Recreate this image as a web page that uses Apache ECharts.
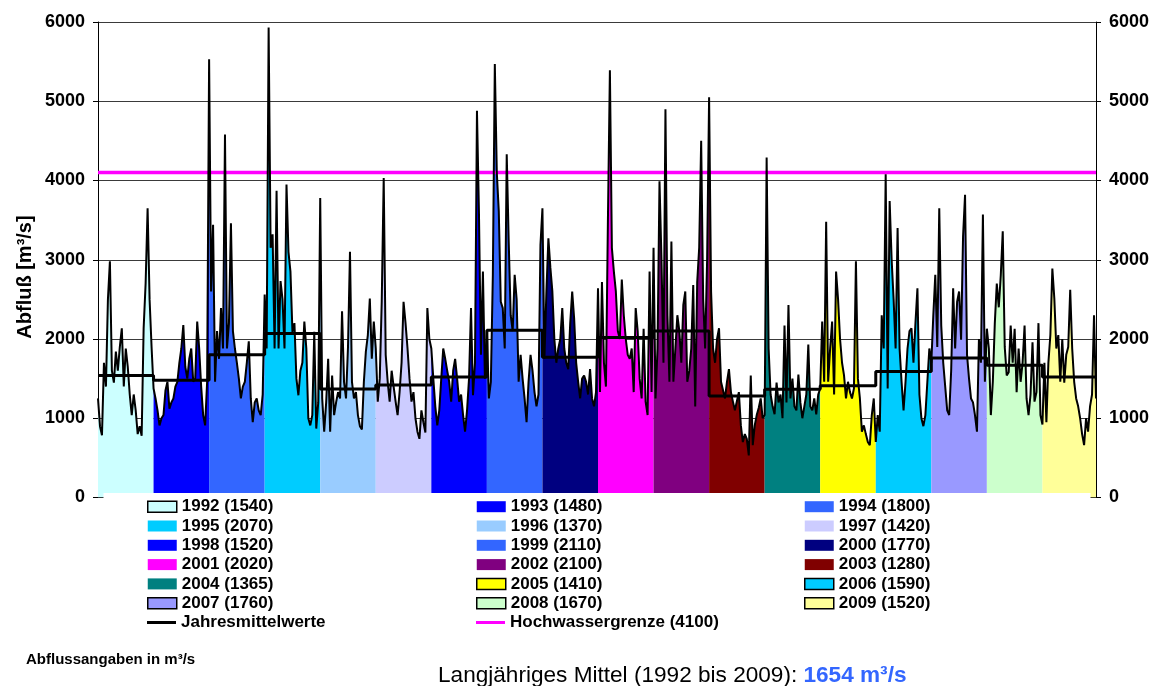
<!DOCTYPE html>
<html><head><meta charset="utf-8">
<script src="https://cdn.jsdelivr.net/npm/echarts@6/dist/echarts.min.js"></script>
<style>html,body{margin:0;padding:0;background:#fff}#c{width:1155px;height:686px}</style>
</head><body><div id="c"></div>
<script>
// ---------- data ----------
const years = [1992,1993,1994,1995,1996,1997,1998,1999,2000,2001,2002,2003,2004,2005,2006,2007,2008,2009];
const annualMeans = [1540,1480,1800,2070,1370,1420,1520,2110,1770,2020,2100,1280,1365,1410,1590,1760,1670,1520];
const floodLimit = 4100;
const longTermMean = 1654;
const yTicks = [0,1000,2000,3000,4000,5000,6000];

// discharge readings (m³/s), evenly spaced through each year
const q1992 = [1250,900,785,1700,1400,2500,2980,1600,1450,1840,1600,1900,2135,1400,1880,1650,1300,1040,1300,1100,800,900,780,2135,2700,3650,2500,1900];
const q1993 = [1375,1250,1100,910,1000,1040,1350,1460,1120,1200,1250,1400,1460,1700,1880,2175,1650,1500,1750,1880,1460,1500,2220,1880,1400,1040,910,1460];
const q1994 = [5530,2600,3440,1460,2100,1750,2390,1880,4580,1880,2200,3460,2100,1880,1700,1500,1250,1400,1460,1700,1970,1250,950,1200,1250,1100,1040,1300];
const q1995 = [2560,1880,5930,3150,3320,1880,3870,1880,2730,2500,1880,3950,3100,2850,2090,2200,1500,1290,1600,1700,2220,1880,1000,910,1040,2090,870,1200];
const q1996 = [3780,1250,830,1200,1750,830,1540,1040,1200,1330,1250,2350,1460,1250,1900,3100,1460,1250,1330,1040,900,860,1460,1840,2050,2510,1750,2220];
const q1997 = [1880,1210,1500,2470,4030,1800,1460,1210,1600,1400,1210,1040,1330,1700,2470,2200,1880,1500,1210,1330,1000,830,740,1100,950,820,2390,2000];
const q1998 = [1880,1500,1150,910,1100,1500,1880,1750,1600,1460,1210,1600,1750,1500,1210,1300,1040,830,1100,1500,2390,1290,1700,4880,3600,1800,2850,1500];
const q1999 = [2100,1250,1460,2800,5470,4100,3610,2470,2390,1880,4330,3230,2300,2100,2810,2500,1460,1800,1500,1250,950,1460,1800,1600,1330,1150,1300,3190];
const q2000 = [3650,1750,2600,3270,2900,2600,2000,1700,1880,2000,2390,1880,1700,1620,2200,2600,2250,1700,1460,1250,1500,1540,1460,1300,1620,1250,1150,1330];
const q2001 = [2640,1330,2720,1700,1400,3500,5390,3150,2850,2600,2100,2000,2750,2300,2000,1800,1750,1880,1330,2390,2100,1500,1250,2130,1210,1040,2850,1330];
const q2002 = [3150,1250,1880,3990,3000,1700,4900,2300,1460,3230,1460,1880,2300,2100,1700,2430,2600,1460,1600,1880,2680,1150,2720,3150,4500,2510,1880,3000];
const q2003 = [5050,2600,1880,1700,2000,2135,1460,1460,1250,1460,1620,1330,1210,1100,1080,1330,910,700,800,740,530,1540,660,910,1040,1130,1250,1000];
const q2004 = [1040,4290,1880,1300,1150,1050,1450,1200,1300,1000,2170,1200,2430,1250,1500,1150,1100,1550,1200,1000,1150,1300,1930,1150,1100,1250,1050,1300];
const q2005 = [1375,2220,1460,3480,1460,1880,2220,1300,2850,2500,2000,1700,1540,1250,1460,1330,1250,1375,2980,1500,1250,830,910,800,700,660,1040,1250];
const q2006 = [700,1040,830,2300,1880,4080,1375,3740,3000,2500,1880,3400,1880,1460,1100,1460,1880,2100,2135,1700,2200,2640,1300,1000,900,1040,1460,1880];
const q2007 = [1700,2300,2810,1900,3650,2170,1700,1400,1100,1040,1600,2640,1880,2470,2600,1990,3300,3820,1800,1500,1250,1200,1040,830,2000,1700,3570,1460];
const q2008 = [2130,1880,1040,1460,2200,2700,2400,2800,3360,1900,1540,1580,2170,1700,2130,1330,1880,1460,1700,2170,1250,1040,1300,1960,1210,1330,2200,1040];
const q2009 = [920,1700,950,1700,2050,2890,2510,1880,2050,1460,2000,1450,1800,1900,2620,1880,1460,1250,1150,1000,800,660,1000,830,1150,1300,2300,1250];
const dailyByYear = [q1992,q1993,q1994,q1995,q1996,q1997,q1998,q1999,q2000,q2001,q2002,q2003,q2004,q2005,q2006,q2007,q2008,q2009];

// ---------- styles ----------
const fillColors = ['#CCFFFF','#0000FF','#3366FF','#00CCFF','#99CCFF','#CCCCFF','#0000FF','#3366FF','#000080',
                    '#FF00FF','#800080','#800000','#008080','#FFFF00','#00CCFF','#9999FF','#CCFFCC','#FFFF99'];
const withBorder = [true,false,false,false,false,false,false,false,false,false,false,false,false,true,true,true,true,true];
const FONT = '"Liberation Sans", Arial, sans-serif';

// ---------- build ----------
const last = years.length - 1;
const xMax = last + (dailyByYear[last].length - 1) / dailyByYear[last].length;
const series = [];
const allPts = [];
years.forEach((yr, i) => {
  const vals = dailyByYear[i];
  const pts = vals.map((v, k) => [i + k / vals.length, v]);
  pts.forEach(p => allPts.push(p));
  const areaPts = pts.slice();
  if (i < last) areaPts.push([i + 1, dailyByYear[i + 1][0]]);
  series.push({
    name: yr + ' (' + annualMeans[i] + ')', type: 'line', data: areaPts, symbol: 'none',
    lineStyle: { width: 0, opacity: 0 }, itemStyle: { color: fillColors[i] },
    areaStyle: { color: fillColors[i], opacity: 1 }, z: 2, silent: true
  });
});
series.push({ name: 'Hochwassergrenze (' + floodLimit + ')', type: 'line', data: [[0, floodLimit], [xMax, floodLimit]],
  symbol: 'none', lineStyle: { color: '#FF00FF', width: 3.5 }, itemStyle: { color: '#FF00FF' }, z: 4, silent: true });
series.push({ name: 'daily', type: 'line', data: allPts, symbol: 'none',
  lineStyle: { color: '#000', width: 2 }, z: 5, silent: true });
const meanPts = annualMeans.map((m, i) => [i, m]);
meanPts.push([xMax, annualMeans[last]]);
series.push({ name: 'Jahresmittelwerte', type: 'line', step: 'end', data: meanPts, symbol: 'none',
  lineStyle: { color: '#000', width: 3 }, itemStyle: { color: '#000' }, z: 6, silent: true });

function yearItem(i) {
  return { name: years[i] + ' (' + annualMeans[i] + ')', icon: 'rect',
    itemStyle: { color: fillColors[i], borderColor: withBorder[i] ? '#000' : fillColors[i], borderWidth: withBorder[i] ? 1.5 : 0 } };
}
const legendBase = { orient: 'vertical', padding: 0, itemWidth: 29, itemHeight: 11, itemGap: 2.3, selectedMode: false, z: 20,
  textStyle: { fontFamily: FONT, fontWeight: 'bold', fontSize: 17, lineHeight: 17, color: '#000' } };
const colX = [147, 476, 804];
const rowTop = 498.2, rowStep = 19.3;
const legends = [0, 1, 2].map(c => Object.assign({}, legendBase, {
  left: colX[c], top: rowTop,
  data: years.map((y, i) => i).filter(i => i % 3 === c).map(yearItem)
}));
legends.push(Object.assign({}, legendBase, { left: colX[0], top: rowTop + 6 * rowStep, itemHeight: 3,
  data: [{ name: 'Jahresmittelwerte', icon: 'rect', itemStyle: { color: '#000' } }] }));
legends.push(Object.assign({}, legendBase, { left: colX[1], top: rowTop + 6 * rowStep, itemHeight: 3,
  data: [{ name: 'Hochwassergrenze (' + floodLimit + ')', icon: 'rect', itemStyle: { color: '#FF00FF' } }] }));

const yAxisBase = { type: 'value', min: yTicks[0], max: yTicks[yTicks.length - 1], interval: yTicks[1] - yTicks[0],
  axisLine: { show: true, lineStyle: { color: '#000', width: 1 } },
  axisTick: { show: true, length: 5, lineStyle: { color: '#000' } },
  axisLabel: { fontFamily: FONT, fontWeight: 'bold', fontSize: 18, color: '#000', margin: 13, formatter: v => String(v) } };

const chart = echarts.init(document.getElementById('c'), null, { renderer: 'canvas' });
chart.setOption({
  animation: false,
  backgroundColor: '#fff',
  grid: { left: 98, right: 59, top: 22, bottom: 188.5 },
  xAxis: { type: 'value', min: 0, max: xMax, axisLine: { show: true, onZero: false, lineStyle: { color: '#000' } },
    axisTick: { show: false }, axisLabel: { show: false }, splitLine: { show: false } },
  yAxis: [
    Object.assign({}, yAxisBase, { position: 'left', splitLine: { show: true, lineStyle: { color: '#3a3a3a', width: 1 } } }),
    Object.assign({}, yAxisBase, { position: 'right', splitLine: { show: false } })
  ],
  legend: legends,
  series: series,
  graphic: [
    { type: 'rect', z: 10, shape: { x: 103.5, y: 493, width: 987, height: 145 }, style: { fill: '#fff' }, silent: true },
    { type: 'text', z: 30, x: 25, y: 277, rotation: Math.PI / 2,
      style: { text: 'Abfluß [m³/s]', font: 'bold 20px ' + FONT, fill: '#000', textAlign: 'center', textVerticalAlign: 'middle' } },
    { type: 'text', z: 30, x: 26, y: 660,
      style: { text: 'Abflussangaben in m³/s', font: 'bold 15px ' + FONT, fill: '#000', textVerticalAlign: 'middle' } },
    { type: 'text', z: 30, x: 438, y: 676,
      style: { text: '{a|Langjähriges Mittel (' + years[0] + ' bis ' + years[last] + '): }{b|' + longTermMean + ' m³/s}',
        textVerticalAlign: 'middle',
        rich: { a: { fontFamily: FONT, fontSize: 22.6, fill: '#000', color: '#000' },
                b: { fontFamily: FONT, fontSize: 22.6, fontWeight: 'bold', fill: '#3366FF', color: '#3366FF' } } } }
  ]
});
</script></body></html>
